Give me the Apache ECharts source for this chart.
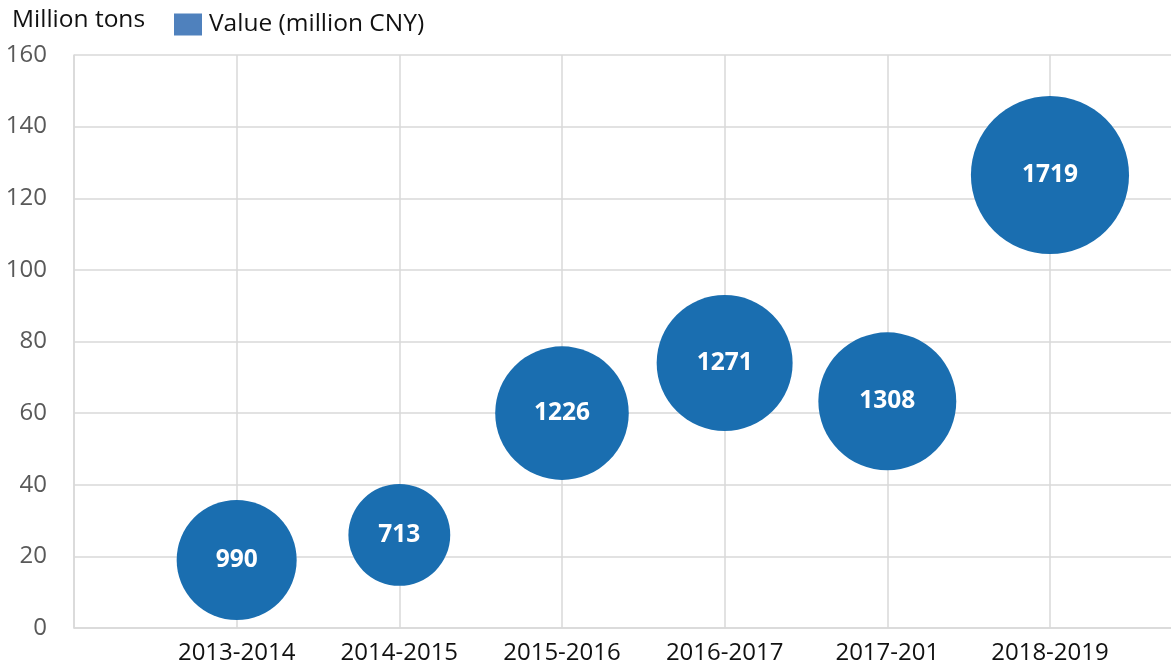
<!DOCTYPE html>
<html>
<head>
<meta charset="utf-8">
<script src="https://cdn.jsdelivr.net/npm/echarts@6/dist/echarts.min.js"></script>
<style>html,body{margin:0;padding:0;background:#fff;overflow:hidden}#c{width:1171px;height:668px;overflow:hidden}</style>
</head>
<body>
<div id="c"></div>
<script>
const categories = ['2013-2014', '2014-2015', '2015-2016', '2016-2017', '2017-201', '2018-2019'];
const tons = [19, 26, 60, 74, 63.3, 126.5];
const values = [990, 713, 1226, 1271, 1308, 1719];
const yTicks = [0, 20, 40, 60, 80, 100, 120, 140, 160];

const FONT = '"Open Sans", "Liberation Sans", sans-serif';
const chart = echarts.init(document.getElementById('c'));
const data = categories.map((c, i) => [i + 1, tons[i], values[i]]);

chart.setOption({
  animation: false,
  title: {
    text: 'Million tons', left: 12, top: 6, padding: 0,
    textStyle: { fontFamily: FONT, fontSize: 24.5, fontWeight: 'normal', color: '#111', lineHeight: 28 }
  },
  legend: {
    left: 174, top: 12, padding: 0, itemWidth: 28, itemHeight: 22, icon: 'rect',
    data: [{ name: 'Value (million CNY)', itemStyle: { color: '#4f81bd' } }],
    textStyle: { fontFamily: FONT, fontSize: 24.5, color: '#111', padding: [0, 0, 0, 2] }
  },
  grid: { left: 74, right: -20, top: 55, bottom: 40, containLabel: false, outerBoundsMode: 'none' },
  xAxis: {
    type: 'value', min: 0, max: 6.867, interval: 1,
    axisLine: { show: true, lineStyle: { color: '#d9d9d9', width: 1.5 } },
    axisTick: { show: false },
    splitLine: { show: true, lineStyle: { color: '#d9d9d9', width: 1.5 } },
    axisLabel: {
      margin: 13, fontFamily: FONT, fontSize: 24, color: '#111', showMaxLabel: false,
      formatter: v => (Number.isInteger(v) && v >= 1 && v <= categories.length) ? categories[v - 1] : ''
    }
  },
  yAxis: {
    type: 'value', min: yTicks[0], max: yTicks[yTicks.length - 1], interval: 20,
    axisLine: { show: true, lineStyle: { color: '#d9d9d9', width: 1.5 } },
    axisTick: { show: false },
    splitLine: { show: true, lineStyle: { color: '#d9d9d9', width: 1.5 } },
    axisLabel: { margin: 27, fontFamily: FONT, fontSize: 24, color: '#595959' }
  },
  series: [{
    name: 'Value (million CNY)',
    type: 'scatter',
    data: data,
    symbolSize: d => 120 * Math.sqrt(d[2] / 990),
    itemStyle: { color: '#1a6eb0', opacity: 1 },
    label: {
      show: true, position: 'inside', formatter: p => String(p.value[2]),
      fontFamily: FONT, fontSize: 24.5, fontWeight: 'bold', color: '#fff'
    },
    emphasis: { disabled: true }
  }]
});
</script>
</body>
</html>
